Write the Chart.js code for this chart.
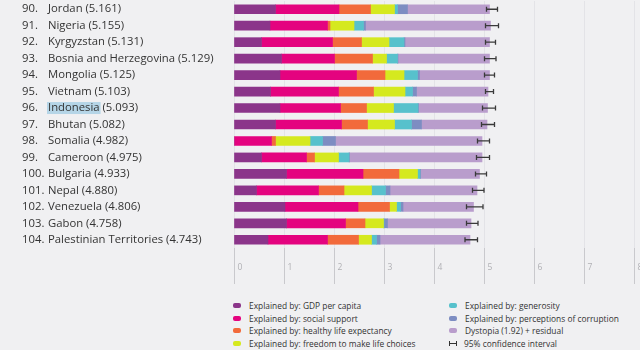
<!DOCTYPE html>
<html>
<head>
<meta charset="utf-8">
<script src="https://cdn.jsdelivr.net/npm/chart.js@4"></script>
<style>
  html, body { margin: 0; padding: 0; background: #fff; }
  #wrap { position: relative; width: 640px; height: 360px; overflow: hidden; }
  #bg { position: absolute; left: 0; top: 0; width: 640px; height: 350px; background: #f0f0f2; }
  #box { position: absolute; left: 0; top: 0; width: 640px; height: 290px; }
  .leg { position: absolute; font-family: "Open Sans", sans-serif; font-size: 8.4px; color: #333; white-space: nowrap; line-height: 10px; }
  .leg i { display: inline-block; width: 8px; height: 5px; border-radius: 2px; margin-right: 8px; vertical-align: 1px; }
  .leg b.ci { display: inline-block; width: 8px; height: 5px; margin-right: 7px; vertical-align: 1px; position: relative; border-left: 1.5px solid #333; border-right: 1.5px solid #333; box-sizing: border-box; }
  .leg b.ci:after { content: ""; position: absolute; left: 0; right: 0; top: 2px; height: 1px; background: #333; }
</style>
</head>
<body>
<div id="wrap">
  <div id="bg"></div>
  <div id="box"><canvas id="barChart"></canvas></div>
  <div id="legend"></div>
</div>
<script>
// ranks, countries and happiness scores
var ranks = [90, 91, 92, 93, 94, 95, 96, 97, 98, 99, 100, 101, 102, 103, 104];
var countries = ['Jordan', 'Nigeria', 'Kyrgyzstan', 'Bosnia and Herzegovina', 'Mongolia', 'Vietnam', 'Indonesia', 'Bhutan',
    'Somalia', 'Cameroon', 'Bulgaria', 'Nepal', 'Venezuela', 'Gabon', 'Palestinian Territories'];
var scores = ['5.161', '5.155', '5.131', '5.129', '5.125', '5.103', '5.093', '5.082', '4.982', '4.975', '4.933', '4.880', '4.806', '4.758', '4.743'];

// stacked components
var gdp = [0.83, 0.72, 0.55, 0.95, 0.92, 0.73, 0.92, 0.83, 0.00, 0.55, 1.05, 0.45, 1.02, 1.05, 0.68];
var social = [1.27, 1.15, 1.42, 1.06, 1.53, 1.36, 1.21, 1.32, 0.75, 0.90, 1.53, 1.24, 1.46, 1.18, 1.19];
var health = [0.63, 0.05, 0.58, 0.76, 0.57, 0.70, 0.52, 0.52, 0.08, 0.16, 0.72, 0.51, 0.63, 0.39, 0.62];
var freedom = [0.48, 0.48, 0.55, 0.28, 0.38, 0.63, 0.54, 0.54, 0.69, 0.48, 0.37, 0.55, 0.14, 0.37, 0.26];
var generosity = [0.06, 0.19, 0.30, 0.22, 0.27, 0.15, 0.49, 0.34, 0.25, 0.21, 0.05, 0.28, 0.08, 0.01, 0.10];
var corruption = [0.20, 0.04, 0.02, 0.01, 0.04, 0.08, 0.01, 0.20, 0.26, 0.01, 0.01, 0.09, 0.05, 0.07, 0.07];
var dystopia = [1.64, 2.50, 1.69, 1.83, 1.40, 1.43, 1.38, 1.31, 2.93, 2.65, 1.18, 1.74, 1.41, 1.67, 1.80];

// 95% confidence interval
var ciLow = [5.05, 5.03, 5.03, 5.01, 5.01, 5.03, 4.97, 4.95, 4.87, 4.85, 4.83, 4.77, 4.65, 4.65, 4.62];
var ciHigh = [5.27, 5.29, 5.23, 5.24, 5.21, 5.19, 5.23, 5.21, 5.11, 5.11, 5.05, 5.00, 4.98, 4.88, 4.87];

var xTicks = [0, 1, 2, 3, 4, 5, 6, 7, 8];

var seriesNames = ['Explained by: GDP per capita', 'Explained by: social support', 'Explained by: healthy life expectancy',
    'Explained by: freedom to make life choices', 'Explained by: generosity', 'Explained by: perceptions of corruption',
    'Dystopia (1.92) + residual'];
var seriesColors = ['#8b358a', '#e4037f', '#f26a3b', '#d5e91f', '#57c1cc', '#7d8dc2', '#b99dcc'];
var seriesData = [gdp, social, health, freedom, generosity, corruption, dystopia];

document.addEventListener('DOMContentLoaded', function () {
    var ctx = document.getElementById('barChart').getContext('2d');

    // rank + country labels on the left, drawn at the category positions
    var rowLabels = {
        id: 'rowLabels',
        afterDraw: function (chart) {
            var c = chart.ctx;
            var y = chart.scales.y;
            c.save();
            c.font = '500 11.3px "Open Sans", sans-serif';
            c.textBaseline = 'middle';
            countries.forEach(function (name, i) {
                var py = y.getPixelForValue(i);
                if (name === 'Indonesia') {
                    c.fillStyle = '#b5d5e7';
                    c.fillRect(47, py - 6, c.measureText(name).width + 2, 12);
                }
                c.fillStyle = '#333';
                c.fillText(ranks[i] + '.', 22, py);
                c.fillText(name + ' (' + scores[i] + ')', 48, py);
            });
            c.restore();
        }
    };

    var errorBars = {
        id: 'errorBars',
        afterDatasetsDraw: function (chart) {
            var c = chart.ctx;
            var x = chart.scales.x, y = chart.scales.y;
            c.save();
            c.strokeStyle = '#3a3a3a';
            c.lineWidth = 1.3;
            ciLow.forEach(function (lo, i) {
                var py = y.getPixelForValue(i);
                var x1 = x.getPixelForValue(lo), x2 = x.getPixelForValue(ciHigh[i]);
                c.beginPath();
                c.moveTo(x1, py); c.lineTo(x2, py);
                c.moveTo(x1, py - 2.5); c.lineTo(x1, py + 2.5);
                c.moveTo(x2, py - 2.5); c.lineTo(x2, py + 2.5);
                c.stroke();
            });
            c.restore();
        }
    };

    var datasets = seriesData.map(function (d, k) {
        return {
            label: seriesNames[k],
            data: d,
            backgroundColor: seriesColors[k],
            borderWidth: 0,
            barThickness: 9
        };
    });

    new Chart(ctx, {
        type: 'bar',
        data: { labels: countries, datasets: datasets },
        plugins: [rowLabels, errorBars],
        options: {
            indexAxis: 'y',
            responsive: true,
            maintainAspectRatio: false,
            animation: false,
            layout: { padding: { top: 1, right: 6, left: 0, bottom: 0 } },
            plugins: { legend: { display: false }, tooltip: { enabled: false } },
            scales: {
                x: {
                    stacked: true,
                    min: 0,
                    max: 8,
                    afterBuildTicks: function (s) {
                        s.ticks = xTicks.map(function (v) { return { value: v }; });
                    },
                    afterFit: function (s) { s.height = 42; },
                    border: { display: false },
                    grid: { color: '#e3e3e7', tickColor: '#c9c9cd', tickLength: 36, lineWidth: 1 },
                    ticks: {
                        padding: -22,
                        labelOffset: 6,
                        color: '#b0b0b4',
                        font: { family: 'Open Sans', size: 8.5 }
                    }
                },
                y: {
                    stacked: true,
                    afterFit: function (s) { s.width = 234; },
                    border: { display: false },
                    grid: { display: false },
                    ticks: { display: false }
                }
            }
        }
    });

    // two-column legend
    var legend = document.getElementById('legend');
    var cols = [233, 449];
    var rowsY = [301, 314, 326, 339];
    seriesNames.forEach(function (name, k) {
        var el = document.createElement('div');
        el.className = 'leg';
        el.style.left = cols[Math.floor(k / 4)] + 'px';
        el.style.top = rowsY[k % 4] + 'px';
        el.innerHTML = '<i style="background:' + seriesColors[k] + '"></i>' + name;
        legend.appendChild(el);
    });
    var ci = document.createElement('div');
    ci.className = 'leg';
    ci.style.left = cols[1] + 'px';
    ci.style.top = rowsY[3] + 'px';
    ci.innerHTML = '<b class="ci"></b>95% confidence interval';
    legend.appendChild(ci);
});
</script>
</body>
</html>
